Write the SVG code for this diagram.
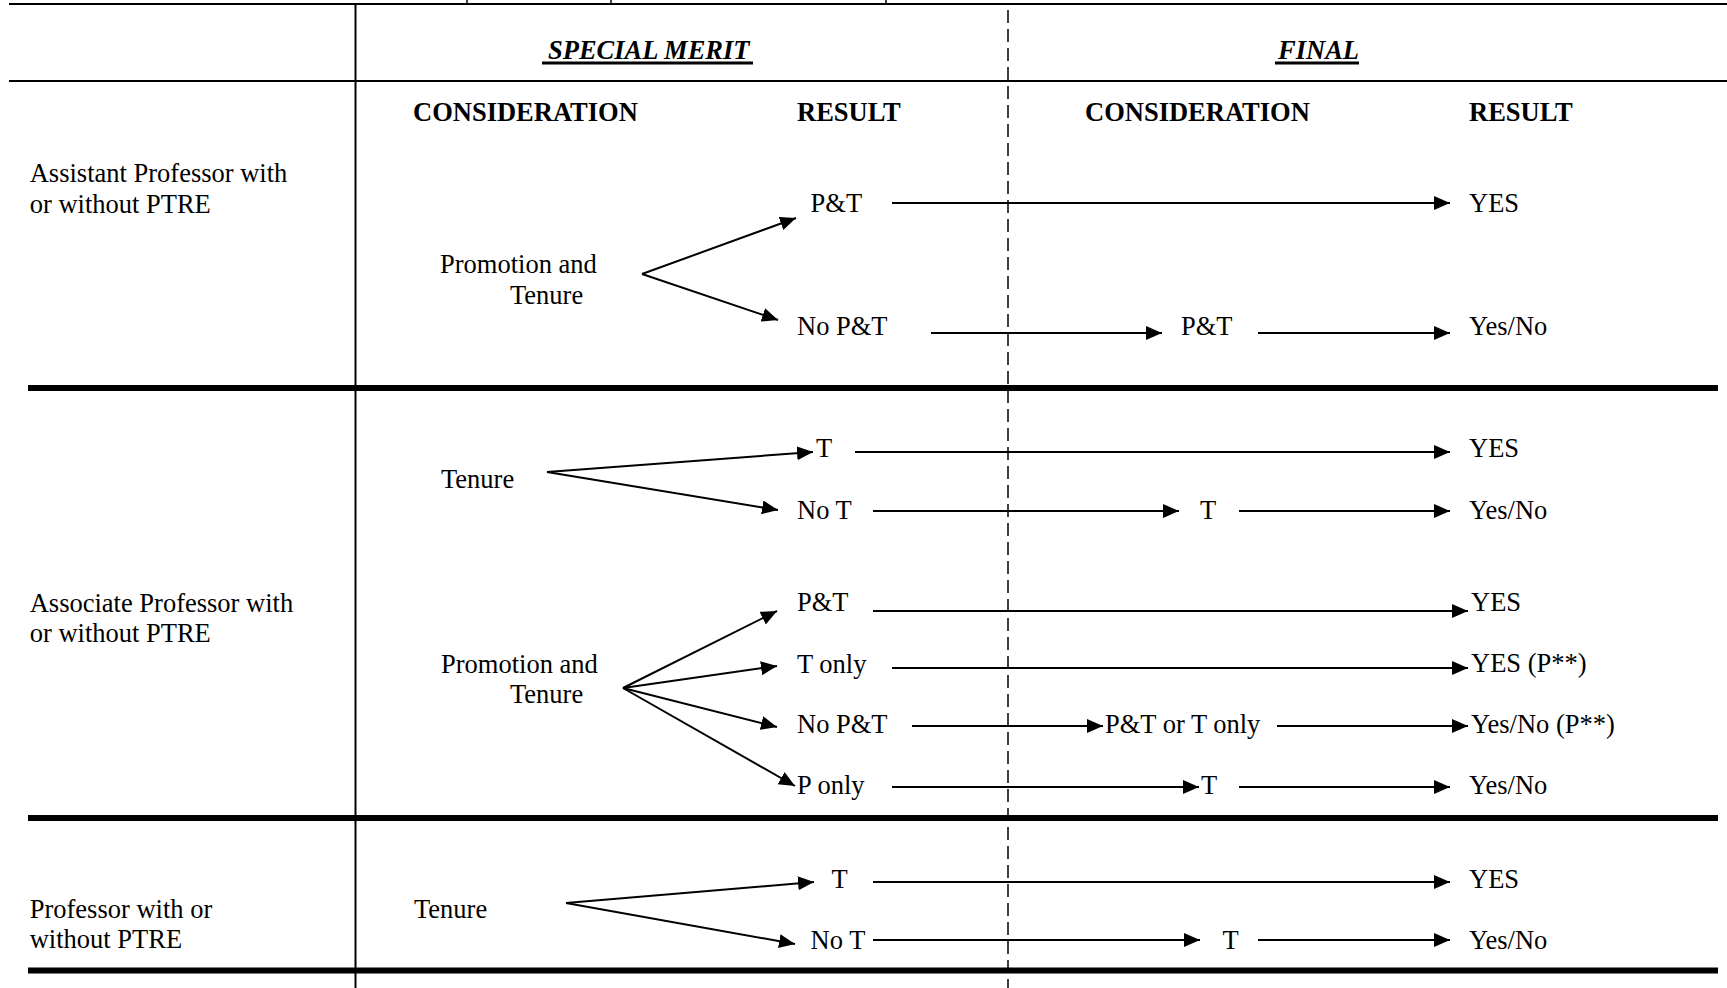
<svg xmlns="http://www.w3.org/2000/svg" width="1727" height="988" viewBox="0 0 1727 988">
<style>
.t{font-family:"Liberation Serif","Times New Roman",serif;font-size:26.5px;fill:#000}
.b{font-weight:bold}
.bi{font-weight:bold;font-style:italic}
.c{stroke:#000;stroke-width:2;fill:none;marker-end:url(#ah)}
.g{stroke:#000;fill:none}
</style>
<defs>
<marker id="ah" markerUnits="userSpaceOnUse" markerWidth="18" markerHeight="16" refX="16" refY="7" orient="auto">
<path d="M0,0 L16,7 L0,14 z" fill="#000"/>
</marker>
</defs>
<rect width="1727" height="988" fill="#fff"/>
<g id="grid">
<line class="g" x1="9" y1="4" x2="1727" y2="4" stroke-width="2"/>
<line class="g" x1="9" y1="81" x2="1727" y2="81" stroke-width="2"/>
<line class="g" x1="28" y1="388" x2="1718" y2="388" stroke-width="6"/>
<line class="g" x1="28" y1="818" x2="1718" y2="818" stroke-width="6"/>
<line class="g" x1="28" y1="970.5" x2="1718" y2="970.5" stroke-width="6"/>
<line class="g" x1="355.5" y1="4" x2="355.5" y2="988" stroke-width="2"/>
<line class="g" x1="1008" y1="10" x2="1008" y2="988" stroke-width="1.5" stroke-dasharray="13 6"/>
<line class="g" x1="467" y1="0" x2="467" y2="3" stroke-width="1.5"/>
<line class="g" x1="611" y1="0" x2="611" y2="3" stroke-width="1.5"/>
<line class="g" x1="886" y1="0" x2="886" y2="3" stroke-width="1.5"/>
<rect x="542" y="61.5" width="211" height="3" fill="#000"/>
<rect x="1275" y="61.5" width="84" height="3" fill="#000"/>
</g>
<g id="headers">
<text id="h-special" class="t bi" x="548" y="59">SPECIAL MERIT</text>
<text id="h-final" class="t bi" x="1278" y="59">FINAL</text>
<text id="h-cons1" class="t b" x="413" y="121">CONSIDERATION</text>
<text id="h-res1" class="t b" x="797" y="121">RESULT</text>
<text id="h-cons2" class="t b" x="1085" y="121">CONSIDERATION</text>
<text id="h-res2" class="t b" x="1469" y="121">RESULT</text>
</g>
<g id="row-labels">
<text id="lbl-assistant" class="t" x="29.7" y="182"><tspan x="29.7">Assistant Professor with</tspan><tspan x="29.7" y="212.5">or without PTRE</tspan></text>
<text id="lbl-associate" class="t" x="29.7" y="611.5"><tspan x="29.7">Associate Professor with</tspan><tspan x="29.7" y="642">or without PTRE</tspan></text>
<text id="lbl-professor" class="t" x="29.7" y="917.5"><tspan x="29.7">Professor with or</tspan><tspan x="29.7" y="948">without PTRE</tspan></text>
</g>
<g id="connectors">
<line class="c" x1="642" y1="274" x2="796" y2="218"/>
<line class="c" x1="642" y1="274" x2="778" y2="320"/>
<line class="c" x1="892" y1="203" x2="1450" y2="203"/>
<line class="c" x1="931" y1="333" x2="1162" y2="333"/>
<line class="c" x1="1258" y1="333" x2="1450" y2="333"/>
<line class="c" x1="547" y1="472" x2="813" y2="452"/>
<line class="c" x1="547" y1="472" x2="778" y2="510"/>
<line class="c" x1="855" y1="452" x2="1450" y2="452"/>
<line class="c" x1="873" y1="511" x2="1179" y2="511"/>
<line class="c" x1="1239" y1="511" x2="1450" y2="511"/>
<line class="c" x1="623" y1="688" x2="777" y2="611"/>
<line class="c" x1="623" y1="688" x2="777" y2="666"/>
<line class="c" x1="623" y1="688" x2="777" y2="727"/>
<line class="c" x1="623" y1="688" x2="795" y2="786"/>
<line class="c" x1="873" y1="611" x2="1468" y2="611"/>
<line class="c" x1="892" y1="668" x2="1468" y2="668"/>
<line class="c" x1="912" y1="726" x2="1103" y2="726"/>
<line class="c" x1="1277" y1="726" x2="1468" y2="726"/>
<line class="c" x1="892" y1="787" x2="1199" y2="787"/>
<line class="c" x1="1239" y1="787" x2="1450" y2="787"/>
<line class="c" x1="566" y1="903" x2="814" y2="882"/>
<line class="c" x1="566" y1="903" x2="795" y2="944"/>
<line class="c" x1="873" y1="882" x2="1450" y2="882"/>
<line class="c" x1="873" y1="940" x2="1200" y2="940"/>
<line class="c" x1="1258" y1="940" x2="1450" y2="940"/>
</g>
<g id="n-r1-pt"><text class="t" x="440" y="273">Promotion and</text><text class="t" x="510" y="304">Tenure</text></g>
<g id="n-r1-pt-yes"><text class="t" x="810.6" y="212">P&amp;T</text></g>
<g id="n-r1-yes"><text class="t" x="1469" y="212">YES</text></g>
<g id="n-r1-nopt"><text class="t" x="797" y="335">No P&amp;T</text></g>
<g id="n-r1-final-pt"><text class="t" x="1181" y="335">P&amp;T</text></g>
<g id="n-r1-yesno"><text class="t" x="1469" y="335">Yes/No</text></g>
<g id="n-r2-tenure"><text class="t" x="441" y="488">Tenure</text></g>
<g id="n-r2-t"><text class="t" x="816" y="457">T</text></g>
<g id="n-r2-t-yes"><text class="t" x="1469" y="457">YES</text></g>
<g id="n-r2-not"><text class="t" x="797" y="519">No T</text></g>
<g id="n-r2-final-t"><text class="t" x="1200" y="519">T</text></g>
<g id="n-r2-not-yesno"><text class="t" x="1469" y="519">Yes/No</text></g>
<g id="n-r2-pt"><text class="t" x="441" y="673">Promotion and</text><text class="t" x="510" y="703">Tenure</text></g>
<g id="n-r2-pandt"><text class="t" x="797" y="611">P&amp;T</text></g>
<g id="n-r2-pandt-yes"><text class="t" x="1471" y="611">YES</text></g>
<g id="n-r2-tonly"><text class="t" x="797" y="673">T only</text></g>
<g id="n-r2-tonly-yes"><text class="t" x="1471" y="672">YES (P**)</text></g>
<g id="n-r2-nopt"><text class="t" x="797" y="733">No P&amp;T</text></g>
<g id="n-r2-ptort"><text class="t" x="1105" y="733">P&amp;T or T only</text></g>
<g id="n-r2-nopt-yesno"><text class="t" x="1471" y="733">Yes/No (P**)</text></g>
<g id="n-r2-ponly"><text class="t" x="797" y="794">P only</text></g>
<g id="n-r2-ponly-t"><text class="t" x="1201" y="794">T</text></g>
<g id="n-r2-ponly-yesno"><text class="t" x="1469" y="794">Yes/No</text></g>
<g id="n-r3-tenure"><text class="t" x="414" y="917.5">Tenure</text></g>
<g id="n-r3-t"><text class="t" x="831.6" y="888">T</text></g>
<g id="n-r3-yes"><text class="t" x="1469" y="888">YES</text></g>
<g id="n-r3-not"><text class="t" x="810.6" y="948.5">No T</text></g>
<g id="n-r3-final-t"><text class="t" x="1222.6" y="948.5">T</text></g>
<g id="n-r3-yesno"><text class="t" x="1469" y="948.5">Yes/No</text></g>
</svg>
